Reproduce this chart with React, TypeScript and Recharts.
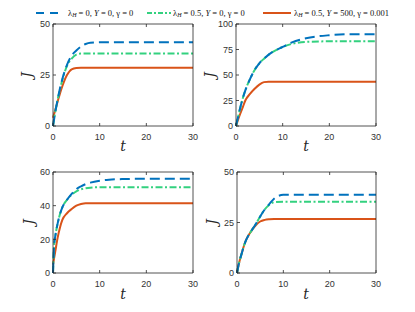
import React from "react";
import { LineChart, Line, XAxis, YAxis } from "recharts";

const times = [0, 0.25, 0.5, 1, 1.5, 2, 3, 4, 5, 6, 7, 8, 10, 12, 15, 20, 25, 30];

// Panel 1 (top-left)
const p1Blue = [0, 3.5, 7, 13, 18.5, 23, 30, 34.5, 37, 39, 40.2, 40.8, 41, 41, 41, 41, 41, 41];
const p1Green = [0, 3.5, 7, 13, 18, 22.5, 29.5, 33, 35, 35.5, 35.5, 35.5, 35.5, 35.5, 35.5, 35.5, 35.5, 35.5];
const p1Red = [4, 6, 8, 12, 16, 19.5, 25, 27.8, 28.4, 28.5, 28.5, 28.5, 28.5, 28.5, 28.5, 28.5, 28.5, 28.5];

// Panel 2 (top-right)
const p2Blue = [0, 5, 10, 19.5, 28, 35, 46, 55, 61.5, 66, 70, 73, 77.5, 82, 86, 89, 90, 90];
const p2Green = [0, 5, 10, 19.5, 28, 35, 46, 55, 61.5, 66, 70, 73, 77.5, 80.5, 82.5, 83, 83, 83];
const p2Red = [0, 3.5, 7, 13, 19, 25, 31.5, 36.5, 40.5, 43, 43.5, 43.5, 43.5, 43.5, 43.5, 43.5, 43.5, 43.5];

// Panel 3 (bottom-left)
const p3Blue = [0, 17, 22, 29.5, 35, 39, 43.5, 47, 49.8, 51.5, 52.8, 53.7, 54.8, 55.4, 55.8, 56, 56, 56];
const p3Green = [0, 17, 22, 29.5, 35, 39, 43.5, 46.5, 48.5, 49.7, 50.3, 50.7, 51, 51, 51, 51, 51, 51];
const p3Red = [5, 9, 13, 21, 27, 31.5, 35.5, 38, 40, 41, 41.5, 41.5, 41.5, 41.5, 41.5, 41.5, 41.5, 41.5];

// Panel 4 (bottom-right)
const p4Blue = [0, 3, 5.5, 9.5, 13.5, 16.5, 20.5, 24, 28, 31.5, 34.2, 36.8, 38.7, 38.7, 38.7, 38.7, 38.7, 38.7];
const p4Green = [0, 3, 5.5, 9.5, 13.5, 16.5, 20.5, 24, 28, 31.5, 33.8, 35, 35.3, 35.3, 35.3, 35.3, 35.3, 35.3];
const p4Red = [0, 3, 5.5, 9.5, 13.5, 16.5, 20.5, 23.5, 25.5, 26.3, 26.6, 26.7, 26.7, 26.7, 26.7, 26.7, 26.7, 26.7];

const xTicks = [0, 10, 20, 30];
const yTicks1 = [0, 25, 50];
const yTicks2 = [0, 25, 50, 75, 100];
const yTicks3 = [0, 20, 40, 60];
const yTicks4 = [0, 25, 50];

const BLUE = "#0072BD";
const GREEN = "#33D17F";
const RED = "#D95319";
const AX = "#262626";

const W = 415;
const H = 312;
const YW = 30;
const XH = 20;
const MIR = 5;

function build(b: number[], g: number[], r: number[]) {
  return times.map((t, i) => ({ t, b: b[i], g: g[i], r: r[i] }));
}

const panels = [
  { box: [53, 24, 193, 126], yMax: 50, yTicks: yTicks1, data: build(p1Blue, p1Green, p1Red) },
  { box: [236, 24, 376, 126], yMax: 100, yTicks: yTicks2, data: build(p2Blue, p2Green, p2Red) },
  { box: [53, 172, 193, 273], yMax: 60, yTicks: yTicks3, data: build(p3Blue, p3Green, p3Red) },
  { box: [237, 172, 376, 273], yMax: 50, yTicks: yTicks4, data: build(p4Blue, p4Green, p4Red) },
];

const tickStyle = { fontSize: 9, fill: "#333", fontFamily: "Liberation Sans, Arial, sans-serif" };
const noLabel = () => <g />;

function Panel({ p }: { p: (typeof panels)[number] }) {
  const [x0, y0, x1, y1] = p.box;
  return (
    <div style={{ position: "absolute", left: 0, top: 0 }}>
      <LineChart
        width={W}
        height={H}
        data={p.data}
        margin={{ left: x0 - YW, top: y0 - MIR, right: W - x1 - MIR, bottom: H - y1 - XH }}
      >
        <XAxis
          xAxisId="b"
          dataKey="t"
          type="number"
          domain={[0, 30]}
          ticks={xTicks}
          height={XH}
          tickSize={-3}
          tickMargin={11}
          tick={tickStyle}
          stroke={AX}
          strokeWidth={0.8}
          interval={0}
        />
        <XAxis
          xAxisId="top"
          orientation="top"
          dataKey="t"
          type="number"
          domain={[0, 30]}
          ticks={xTicks}
          height={MIR}
          tickSize={-3}
          tick={noLabel}
          stroke={AX}
          strokeWidth={0.8}
          interval={0}
        />
        <YAxis
          yAxisId="l"
          type="number"
          domain={[0, p.yMax]}
          ticks={p.yTicks}
          width={YW}
          tickSize={-3}
          tickMargin={6}
          tick={tickStyle}
          stroke={AX}
          strokeWidth={0.8}
          interval={0}
        />
        <YAxis
          yAxisId="r"
          orientation="right"
          type="number"
          domain={[0, p.yMax]}
          ticks={p.yTicks}
          width={MIR}
          tickSize={-3}
          tick={noLabel}
          stroke={AX}
          strokeWidth={0.8}
          interval={0}
        />
        <Line xAxisId="b" yAxisId="l" type="monotone" dataKey="r" stroke={RED} strokeWidth={2} dot={false} isAnimationActive={false} />
        <Line xAxisId="b" yAxisId="l" type="monotone" dataKey="g" stroke={GREEN} strokeWidth={2} strokeDasharray="7 2.5 2 2.5" dot={false} isAnimationActive={false} />
        <Line xAxisId="b" yAxisId="l" type="monotone" dataKey="b" stroke={BLUE} strokeWidth={2} strokeDasharray="10 5" dot={false} isAnimationActive={false} />
      </LineChart>
    </div>
  );
}

const serif = "DejaVu Serif, Liberation Serif, serif";

function LegendItem({ x, lam, y, gam }: { x: number; lam: string; y: string; gam: string }) {
  return (
    <text x={x} y={15.5} fontSize={8.5} fontFamily="Liberation Serif, serif" fill="#111">
      <tspan>λ</tspan>
      <tspan fontSize={6} dy={1.8} fontStyle="italic">H</tspan>
      <tspan dy={-1.8}>{" = " + lam + ", "}</tspan>
      <tspan fontStyle="italic">Y</tspan>
      <tspan>{" = " + y + ", "}</tspan>
      <tspan>γ</tspan>
      <tspan>{" = " + gam}</tspan>
    </text>
  );
}

function Overlay() {
  const jLabels = [
    [28, 75],
    [211, 75],
    [30, 222],
    [213, 222],
  ];
  const tLabels = [
    [123, 151],
    [306, 151],
    [123, 299],
    [306, 299],
  ];
  return (
    <svg width={W} height={H} style={{ position: "absolute", left: 0, top: 0 }}>
      <line x1={36} y1={13} x2={62} y2={13} stroke={BLUE} strokeWidth={2} strokeDasharray="8 6" />
      <LegendItem x={68} lam="0" y="0" gam="0" />
      <line x1={147} y1={13} x2={171} y2={13} stroke={GREEN} strokeWidth={2} strokeDasharray="5 2 2 2" />
      <LegendItem x={173} lam="0.5" y="0" gam="0" />
      <line x1={263} y1={13} x2={291} y2={13} stroke={RED} strokeWidth={2} />
      <LegendItem x={294} lam="0.5" y="500" gam="0.001" />
      {jLabels.map(([x, y], i) => (
        <text key={"j" + i} x={x} y={y} fontSize={14} fontStyle="italic" fontFamily={serif} fill={AX} textAnchor="middle" transform={`rotate(-90 ${x} ${y})`} dominantBaseline="middle">
          J
        </text>
      ))}
      {tLabels.map(([x, y], i) => (
        <text key={"t" + i} x={x} y={y} fontSize={14} fontStyle="italic" fontFamily={serif} fill={AX} textAnchor="middle">
          t
        </text>
      ))}
    </svg>
  );
}

export default function App() {
  return (
    <div style={{ position: "absolute", left: 0, top: 0, width: W, height: H, background: "#fff" }}>
      {panels.map((p, i) => (
        <Panel key={i} p={p} />
      ))}
      <Overlay />
    </div>
  );
}
